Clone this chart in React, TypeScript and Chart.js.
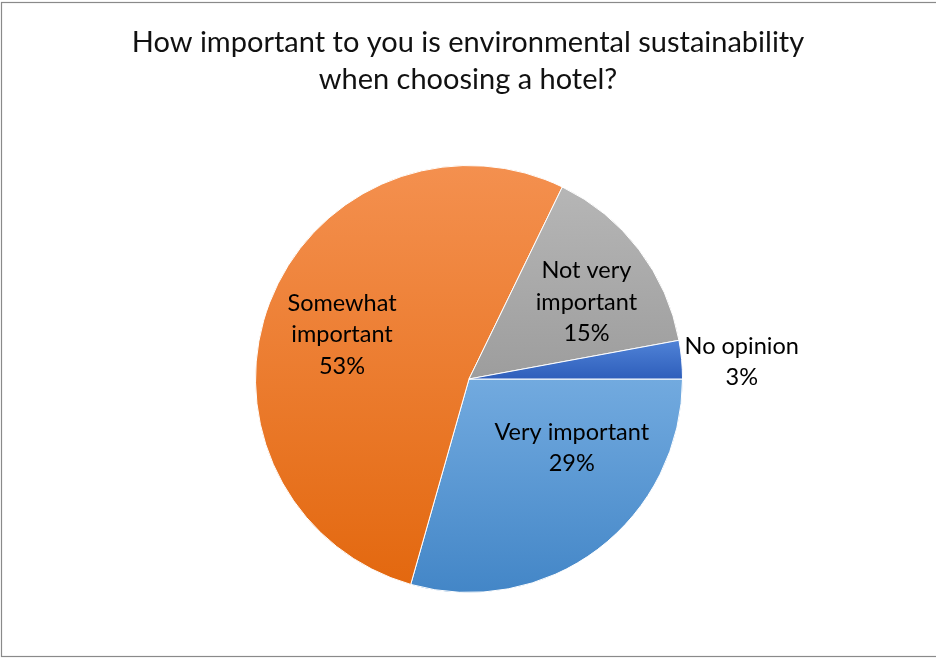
import { useEffect, useRef } from 'react';
import { Chart, registerables } from 'chart.js';

Chart.register(...registerables);

const titleLines = ['How important to you is environmental sustainability', 'when choosing a hotel?'];
const categories = ['Very important', 'Somewhat important', 'Not very important', 'No opinion'];
const values = [29.4, 52.8, 14.9, 2.9];
const labelLines = [
  ['Very important'],
  ['Somewhat', 'important'],
  ['Not very', 'important'],
  ['No opinion'],
];
const gradientTop = ['#72AADF', '#F4904F', '#B6B6B6', '#5083D7'];
const gradientBottom = ['#4386C7', '#E3680F', '#9D9D9D', '#2E5EBB'];
// label placement: fraction of radius and angle shift (deg) from the slice middle
const labelRadius = [0.58, 0.63, 0.657, 1.28];
const labelShift = [-19, -1.6, 4.1, 1.6];

const FONT = 'Lato, "Open Sans", sans-serif';

function sliceFill(ctx: any) {
  const chart = ctx.chart;
  const i = ctx.dataIndex;
  const area = chart.chartArea;
  if (!area || i === undefined) return gradientTop[i ?? 0];
  const cx = (area.left + area.right) / 2;
  const cy = (area.top + area.bottom) / 2;
  const r = Math.min(area.right - area.left, area.bottom - area.top) / 2;
  const total = values.reduce((a, b) => a + b, 0);
  let a0 = 0;
  for (let k = 0; k < i; k++) a0 += (values[k] / total) * Math.PI * 2;
  const a1 = a0 + (values[i] / total) * Math.PI * 2;
  const ys = [cy, cy + r * Math.sin(a0), cy + r * Math.sin(a1)];
  const inRange = (ang: number) => {
    for (let k = 0; k < 2; k++) {
      const t = ang + k * Math.PI * 2;
      if (t >= a0 && t <= a1) return true;
    }
    return false;
  };
  if (inRange(Math.PI / 2)) ys.push(cy + r);
  if (inRange(Math.PI * 1.5)) ys.push(cy - r);
  const ymin = Math.min(...ys);
  const ymax = Math.max(...ys);
  const g = chart.ctx.createLinearGradient(0, ymin, 0, ymax);
  g.addColorStop(0, gradientTop[i]);
  g.addColorStop(1, gradientBottom[i]);
  return g;
}

const decorPlugin = {
  id: 'decor',
  beforeDraw(chart: any) {
    const c = chart.ctx;
    c.save();
    c.fillStyle = '#ffffff';
    c.fillRect(0, 0, chart.width, chart.height);
    c.strokeStyle = '#8a8a8a';
    c.lineWidth = 1.2;
    c.strokeRect(1.5, 2.5, chart.width + 10, 654);
    c.restore();
  },
  afterDraw(chart: any) {
    const c = chart.ctx;
    c.save();
    c.fillStyle = '#111111';
    c.textAlign = 'center';
    c.textBaseline = 'alphabetic';
    c.font = `29px ${FONT}`;
    const cx = chart.width / 2;
    c.fillText(titleLines[0], cx, 52);
    c.fillText(titleLines[1], cx, 89);

    const meta = chart.getDatasetMeta(0);
    const total = values.reduce((a, b) => a + b, 0);
    c.font = `23.5px ${FONT}`;
    c.fillStyle = '#000000';
    c.textBaseline = 'middle';
    meta.data.forEach((arc: any, i: number) => {
      const p = arc.getProps(['x', 'y', 'startAngle', 'endAngle', 'outerRadius']);
      const mid = (p.startAngle + p.endAngle) / 2 + (labelShift[i] * Math.PI) / 180;
      const px = p.x + Math.cos(mid) * p.outerRadius * labelRadius[i];
      const py = p.y + Math.sin(mid) * p.outerRadius * labelRadius[i];
      const lines = [...labelLines[i], `${Math.round((values[i] / total) * 100)}%`];
      const lh = 31.5;
      lines.forEach((t, j) => {
        c.fillText(t, px, py + (j - (lines.length - 1) / 2) * lh);
      });
    });
    c.restore();
  },
};

export default function App() {
  const ref = useRef<HTMLCanvasElement>(null);
  useEffect(() => {
    if (!ref.current) return;
    const chart = new Chart(ref.current, {
      type: 'pie',
      data: {
        labels: categories,
        datasets: [
          {
            data: values,
            backgroundColor: sliceFill as any,
            borderColor: '#ffffff',
            borderWidth: 1,
          },
        ],
      },
      options: {
        responsive: false,
        animation: false,
        rotation: 90,
        layout: { padding: { top: 165, bottom: 66, left: 255, right: 253 } },
        plugins: {
          legend: { display: false },
          title: { display: false },
          tooltip: { enabled: false },
        },
      },
      plugins: [decorPlugin],
    });
    return () => chart.destroy();
  }, []);
  return (
    <div style={{ position: 'fixed', left: 0, top: 0, width: 936, height: 659 }}>
      <canvas ref={ref} width={936} height={659} style={{ display: 'block' }} />
    </div>
  );
}
